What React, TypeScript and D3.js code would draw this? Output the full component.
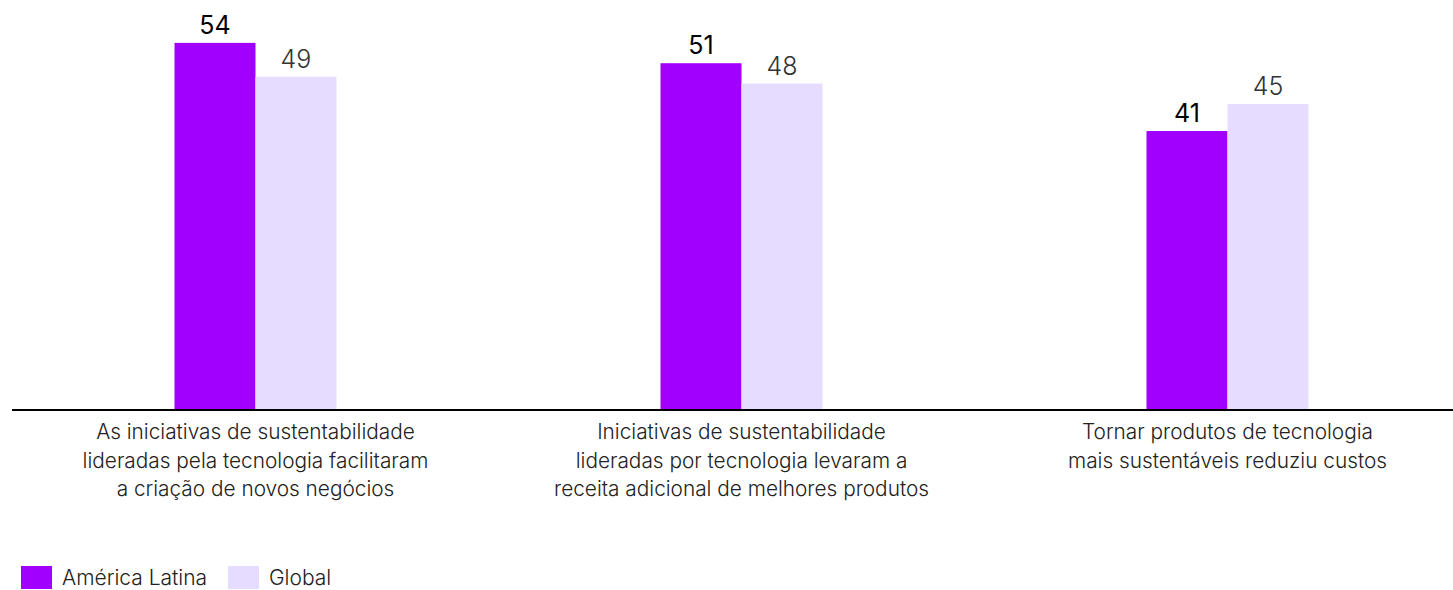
import React from "react";
import * as d3 from "d3";

const categories: string[][] = [
  ["As iniciativas de sustentabilidade", "lideradas pela tecnologia facilitaram", "a criação de novos negócios"],
  ["Iniciativas de sustentabilidade", "lideradas por tecnologia levaram a", "receita adicional de melhores produtos"],
  ["Tornar produtos de tecnologia", "mais sustentáveis reduziu custos"],
];
const seriesNames = ["América Latina", "Global"];
const latam = [54, 51, 41];
const global = [49, 48, 45];
const colors = ["#A100FF", "#E6DCFF"];

export default function App() {
  const W = 1453, H = 590;
  const baseY = 409;
  const x = d3.scaleBand<number>().domain([0, 1, 2]).range([12.5, 1470.5]).paddingInner(0).paddingOuter(0);
  const y = d3.scaleLinear().domain([0, 60]).range([baseY, baseY - 6.78 * 60]);
  const barW = 81;
  const font = "Inter, 'Noto Sans', sans-serif";
  const series = [latam, global];
  return (
    <svg width={W} height={H} style={{ position: "absolute", left: 0, top: 0, display: "block" }}>
      {categories.map((cat, i) => {
        const cx = x(i)! + x.bandwidth() / 2;
        return (
          <g key={i}>
            {series.map((vals, s) => {
              const bx = cx - barW + s * barW;
              return (
                <g key={s}>
                  <rect x={bx} y={y(vals[i])} width={barW} height={baseY - y(vals[i])} fill={colors[s]} />
                  <text
                    x={bx + barW / 2}
                    y={y(vals[i]) - 9}
                    textAnchor="middle"
                    fontFamily={font}
                    fontSize={25}
                    fontWeight={s === 0 ? 400 : 300}
                    fill={s === 0 ? "#000" : "#333"}
                  >
                    {vals[i]}
                  </text>
                </g>
              );
            })}
            {cat.map((line, j) => (
              <text
                key={j}
                x={cx}
                y={439 + j * 28.5}
                textAnchor="middle"
                fontFamily={font}
                fontSize={20.8}
                fontWeight={300}
                fill="#222"
              >
                {line}
              </text>
            ))}
          </g>
        );
      })}
      <line x1={12} x2={1453} y1={baseY + 1} y2={baseY + 1} stroke="#000" strokeWidth={2} />
      {seriesNames.map((name, s) => {
        const lx = s === 0 ? 21 : 228;
        return (
          <g key={name}>
            <rect x={lx} y={566} width={31} height={23} fill={colors[s]} />
            <text x={lx + 41} y={585} fontFamily={font} fontSize={21} fontWeight={300} fill="#222">
              {name}
            </text>
          </g>
        );
      })}
    </svg>
  );
}
